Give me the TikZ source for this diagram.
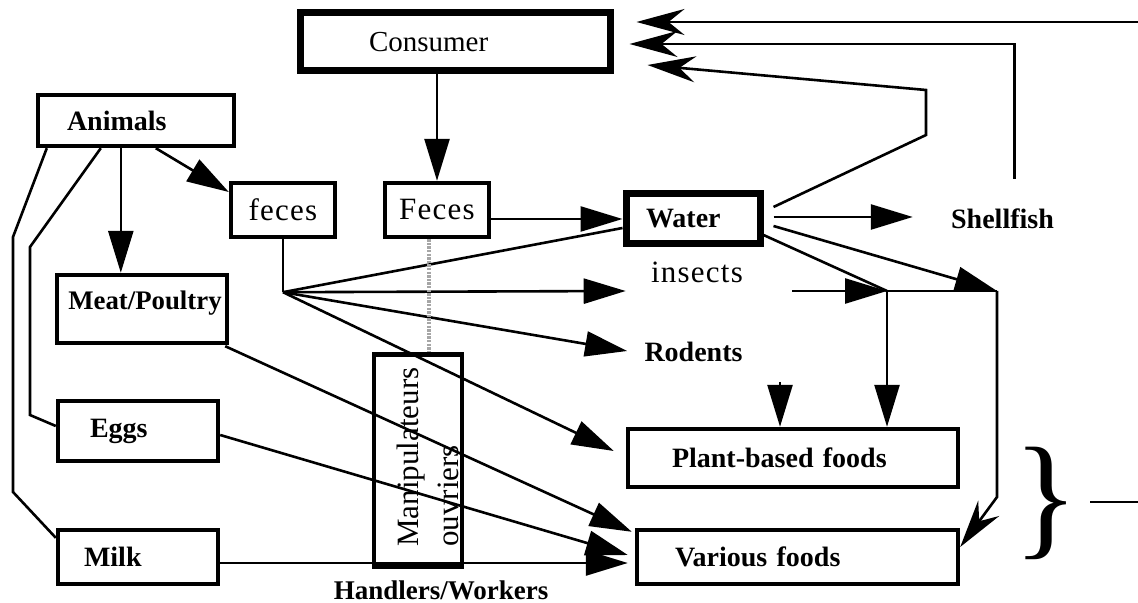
\documentclass[tikz,border=0pt]{standalone}
\usepackage{fontspec}
\setmainfont{Liberation Serif}
\newfontfamily\spcfont[LetterSpace=4]{Liberation Serif}
\usepackage{graphicx}
\usetikzlibrary{arrows.meta,calc}
\begin{document}
\begin{tikzpicture}[x=0.5pt,y=-0.5pt,
  box/.style={draw, rectangle, line width=2.2pt, inner ysep=0pt},
  heavy/.style={draw, rectangle, line width=3.5pt, inner ysep=0pt},
  rtxt/.style={font=\fontsize{14.5}{17}\selectfont},
  stxt/.style={font=\spcfont\fontsize{15.5}{18}\selectfont},
  btxt/.style={font=\bfseries\fontsize{14}{16}\selectfont},
  conn/.style={line width=1.3pt},
  arr/.style={conn, -{Triangle[length=21pt,width=12.5pt]}},
  sarr/.style={conn, -{Stealth[length=24pt,width=13pt,inset=8pt]}},
  dots/.style={line width=1.6pt, gray!70, dash pattern=on 1.2pt off 0.6pt},
]
\useasboundingbox (0,0) rectangle (1138,603);

% boxes and labels
\node[heavy, rtxt, minimum height=29pt, inner xsep=34.5pt, text width=86pt, align=left] (consumer) at (455,42) {Consumer};
\node[box, btxt, minimum height=25.5pt, inner xsep=14.5pt, text width=69pt, align=left] (animals) at (136,120.5) {Animals};
\node[box, stxt, minimum width=52pt, minimum height=27pt, inner xsep=0pt] (feces1) at (283,210) {feces};
\node[box, stxt, minimum width=52pt, minimum height=27pt, inner xsep=0pt] (feces2) at (437,210) {Feces};
\node[heavy, btxt, minimum height=25pt, inner xsep=10pt, text width=47pt, align=left] (water) at (693,219) {Water};
\node[box, minimum width=85pt, minimum height=34pt] (meat) at (142,309) {};
\node[font=\bfseries\fontsize{13.4}{16}\selectfont, inner sep=0pt] (meatt) at (145,303) {Meat/Poultry};
\node[box, btxt, minimum height=30pt, inner xsep=16pt, text width=48pt, align=left] (eggs) at (138,431) {Eggs};
\node[box, btxt, minimum height=27pt, inner xsep=13pt, text width=54pt, align=left] (milk) at (138,557) {Milk};
\node[box, minimum width=44pt, minimum height=106pt] (manip) at (418,460.5) {};
\node[font=\fontsize{15.5}{20}\selectfont, rotate=90, align=left, anchor=west, inner sep=0pt] (manipt) at (428,547) {Manipulateurs\\ouvriers};
\node[box, btxt, minimum height=29pt, inner xsep=22pt, text width=121pt, align=left] (plant) at (793,458) {Plant-based foods};
\node[box, btxt, minimum height=27pt, inner xsep=19pt, text width=122.5pt, align=left] (various) at (797.5,557) {Various foods};
\node[btxt, inner sep=0pt, anchor=base] (shell) at (1002.5,229) {Shellfish};
\node[stxt, inner sep=0pt, anchor=base] (ins) at (697,283) {insects};
\node[btxt, inner sep=0pt, anchor=base] (rod) at (693.5,362) {Rodents};
\node[font=\bfseries\fontsize{13.5}{16}\selectfont, inner sep=0pt, anchor=base] (hand) at (441,599) {Handlers/Workers};
\node[inner sep=0pt] (brace) at (1046,503) {\scalebox{1.7}[1.7]{\fontsize{40}{40}\selectfont\}}};

% feces fan
\coordinate (fan) at ($(feces1.south)+(0,53)$);
\draw[conn] (feces1.south) -- (fan);
\draw[conn] (fan) -- ($(water.west)+(0,9)$);
\draw[arr] (fan) -- ($(ins.base west)+(-25,8)$);
\draw[arr] (fan) -- ($(rod.base west)+(-17,-11)$);
\draw[arr] (fan) -- ($(plant.west)+(-12,-7)$);

% consumer feces
\draw[arr] (feces2.north |- consumer.south) -- (feces2.north);
\draw[arr] (feces2.east |- water.west) -- (water.west);
\coordinate (dt) at ($(feces2.south)+(-8,0)$);
\draw[dots] (dt) -- (dt |- manip.north);

% animals
\coordinate (asw) at (animals.south west);
\draw[conn] ($(asw)+(11,0)$) -- (13,237) -- (13,492) -- ($(milk.north west)+(0,10)$);
\draw[conn] ($(asw)+(65,0)$) -- (30,247) -- (30,415) -- ($(eggs.west)+(0,-5)$);
\coordinate (a3) at ($(asw)+(85,0)$);
\draw[arr] (a3) -- (a3 |- meat.north);
\draw[arr] ($(asw)+(120,0)$) -- ($(feces1.west)+(0,-18)$);

% to various foods
\draw[arr] ($(meat.south east)+(-4,1)$) -- ($(various.north west)+(-3,4)$);
\draw[arr] ($(eggs.east)+(0,4)$) -- ($(various.west)+(-7,-2)$);
\draw[arr] ($(milk.east)+(0,6)$) -- ($(various.west)+(-7,6)$);

% water outgoing
\draw[arr] ($(water.east)+(10,-2)$) -- ($(shell.base west)+(-38,-12)$);
\draw[sarr] ($(water.east)+(10,-12)$) -- (926,135) -- (926,90) -- ($(consumer.east)+(34,23)$);
\draw[sarr] ($(shell.north)+(12,-30)$) |- ($(consumer.east)+(16,2)$);
\coordinate (redge) at (1138,22);
\draw[sarr] (redge) -- ($(consumer.east)+(23,-20)$);

\coordinate (j1) at (887,291);
\coordinate (j2) at (997,291);
\draw[conn] ($(water.east)+(0,16)$) -- (j1);
\draw[arr] ($(ins.base east)+(49,8)$) -- (j1);
\draw[conn] (j1) -- (j2);
\draw[arr] (j1) -- (j1 |- plant.north);
\draw[arr] ($(water.east)+(10,7)$) -- (j2);
\draw[sarr] (j2) -- (997,497) -- ($(various.east)+(0,-10)$);
\coordinate (rs) at (780,382);
\draw[arr] (rs) -- (rs |- plant.north);

% brace line
\coordinate (br) at (1138,502);
\draw[conn] ($(brace.center)+(44,-1)$) -- (br);
\end{tikzpicture}
\end{document}
